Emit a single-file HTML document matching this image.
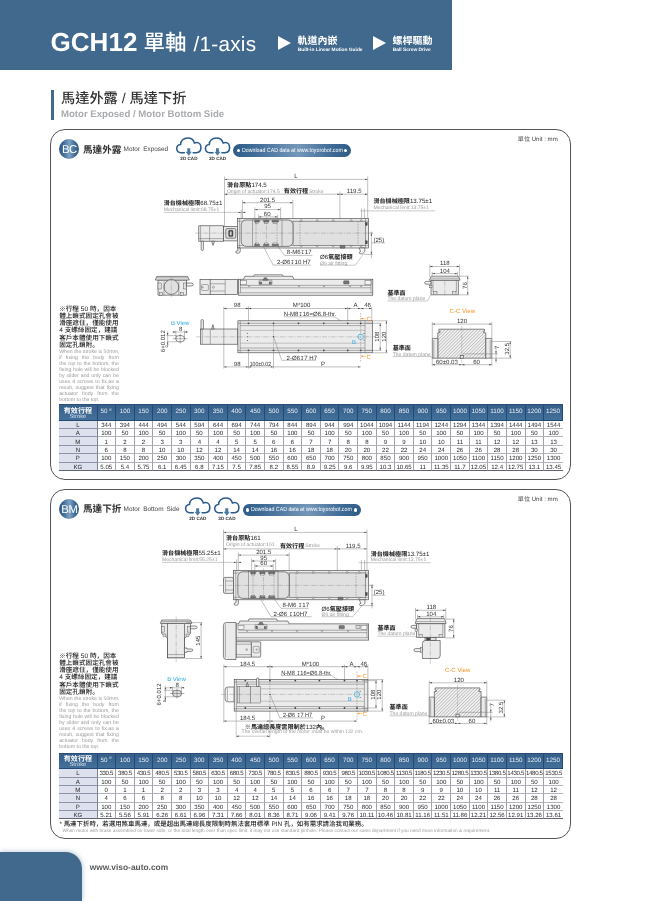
<!DOCTYPE html>
<html lang="zh-Hant">
<head>
<meta charset="utf-8">
<title>GCH12 單軸 / 1-axis</title>
<style>
html,body{margin:0;padding:0;}
body{width:650px;height:901px;position:relative;overflow:hidden;background:#fff;
 font-family:"Liberation Sans","Noto Sans CJK TC",sans-serif;color:#333;text-rendering:geometricPrecision;will-change:transform;-webkit-font-smoothing:antialiased;}
.abs{position:absolute;white-space:nowrap;line-height:1;}
#hdr{position:absolute;left:0;top:0;width:452px;height:70px;background:#41698d;}
#hdr .t{color:#fff;}
.tri{position:absolute;width:0;height:0;border-style:solid;border-color:transparent transparent transparent #fff;border-width:7.4px 0 7.4px 13px;}
.vbar{position:absolute;left:51px;top:90px;width:3px;height:30px;background:#3f6a92;}
.box{position:absolute;left:50.3px;width:519.2px;border:1px solid #555;border-radius:15px;box-sizing:content-box;}
.badge{position:absolute;width:20.2px;height:20.2px;border-radius:50%;
 background:linear-gradient(90deg,#2b5885 0%,#3f6c97 22%,#7da1c1 52%,#3f6c97 80%,#2b5885 100%);color:#fff;
 font-size:11.4px;line-height:22.4px;text-align:center;letter-spacing:-0.5px;}
.pill{position:absolute;height:12.8px;width:118px;border-radius:7px;
 background:linear-gradient(90deg,#2f5b88 0%,#3d6995 15%,#7497b8 55%,#3d6995 85%,#2f5b88 100%);}
.pill i{position:absolute;top:4.7px;width:3.4px;height:3.4px;border-radius:50%;background:#fff;}
.pill span{position:absolute;left:8.7px;top:3.9px;font-size:6px;transform:scaleX(.876);transform-origin:0 50%;line-height:1;color:#fff;white-space:nowrap;}
table.d{position:absolute;border-collapse:separate;border-spacing:0;table-layout:fixed;font-size:6.1px;color:#2a2a2a;border-top:1px solid #2a4e78;}
table.d td{padding:3.1px 0 0 0;text-align:center;vertical-align:top;line-height:4px;border-right:1px solid #a3a3a6;border-bottom:1px solid #b3b5bd;white-space:nowrap;box-sizing:border-box;}
table.d td:last-child{border-right:0;}
table.d tr.h td{padding-top:0;vertical-align:middle;line-height:1;background:linear-gradient(180deg,#365f8a 0%,#43709a 100%);color:#e6edf5;border-right:1px solid #234a74;border-bottom:1px solid #234a74;font-size:6.3px;}
table.d tr.tight td{letter-spacing:-0.32px;}
table.d td.k{background:#dde1ee;border-bottom-color:#8d94a9;border-right-color:#7c8294;}
table.d tr:last-child td{border-bottom-color:#60656f;}
.hs{display:block;line-height:1;padding-top:1.2px;}
.hs b{display:block;font-size:7.1px;font-weight:bold;line-height:8px;color:#fff;}
.hs span{display:block;font-size:5.9px;line-height:5px;color:#d5e0ec;}
table.d sup{font-size:3.5px;vertical-align:top;position:relative;top:-0.5px;margin-left:1px;}
#ftab{position:absolute;left:0;top:852.4px;width:82px;height:49px;background:#41698d;border-top-right-radius:16.5px;box-shadow:1px -1px 4px rgba(65,105,141,.3);}
svg{position:absolute;overflow:visible;}
svg text{font-family:"Liberation Sans","Noto Sans CJK TC",sans-serif;}
.ln{stroke:#6a6a6a;stroke-width:.42;fill:none;}
.lg{stroke:#888;stroke-width:.45;fill:none;}
.ol{stroke:#3a3a3a;stroke-width:.6;}
.ot{stroke:#444;stroke-width:.4;}
.f0{fill:none;}
.f1{fill:#ebebeb;}
.f2{fill:#e0e0e0;}
.f3{fill:#f4f4f4;}
.fk{fill:#444;}
.fm{fill:#777;}
.cl{stroke:#777;stroke-width:.35;fill:none;stroke-dasharray:5 1.2 1 1.2;}
.ds{stroke:#666;stroke-width:.4;fill:none;stroke-dasharray:1.6 1;}
.ar{fill:#444;stroke:none;}
text.d{font-size:6.05px;fill:#333;}
text.b{font-size:6.1px;font-weight:bold;fill:#222;}
text.g{font-size:5.05px;fill:#9a9a9a;}
text.cad{font-size:4.6px;font-weight:bold;fill:#333;}
text.d2{font-size:4px;fill:#333;}
tspan.n{font-weight:normal;font-size:6.15px;}
tspan.dp{font-family:"DejaVu Sans",sans-serif;font-size:5px;}
text.cy{font-size:6px;fill:#29abe2;}
text.or{font-size:6.1px;fill:#f7931e;}
.cyl{stroke:#29abe2;stroke-width:.7;fill:none;}
.orl{stroke:#f7931e;stroke-width:.5;fill:none;}
.oa{fill:#f7931e;}
.note{position:absolute;left:59.2px;width:59.6px;}
.note p{margin:0;}
.note .c{font-family:"Liberation Sans","Noto Sans CJK SC",sans-serif;font-size:6.6px;line-height:7.15px;font-weight:500;color:#1a1a1a;}
.note .e{font-size:5.2px;line-height:6.02px;color:#9a9a9a;text-align:justify;text-align-last:justify;white-space:nowrap;}
</style>
</head>
<body>
<div id="hdr">
 <div class="abs t" style="left:50.4px;top:28.6px;font-size:26px;font-weight:bold;letter-spacing:0.1px;">GCH12</div>
 <div class="abs t" style="left:143.5px;top:33.2px;font-size:21.5px;font-weight:500;">單軸</div>
 <div class="abs t" style="left:193.6px;top:35px;font-size:20.7px;letter-spacing:0.25px;">/1-axis</div>
 <div class="tri" style="left:278.3px;top:36.4px;"></div>
 <div class="abs t" style="left:297.4px;top:37px;font-size:10px;font-weight:bold;">軌道內嵌</div>
 <div class="abs t" style="left:297.7px;top:48.6px;font-size:4.85px;font-weight:bold;">Built-in Linear Motion Guide</div>
 <div class="tri" style="left:373.3px;top:36.4px;"></div>
 <div class="abs t" style="left:392.4px;top:37px;font-size:10px;font-weight:bold;">螺桿驅動</div>
 <div class="abs t" style="left:392.7px;top:48.6px;font-size:4.85px;font-weight:bold;">Ball Screw Drive</div>
</div>
<div class="vbar"></div>
<div class="abs" style="left:61px;top:91.6px;font-size:14.2px;font-weight:500;color:#333;">馬達外露 / 馬達下折</div>
<div class="abs" style="left:61px;top:109.8px;font-size:9.6px;font-weight:bold;color:#a9abae;">Motor Exposed / Motor Bottom Side</div>
<div class="box" style="top:129px;height:349px;"></div>
<div class="badge" style="left:59.3px;top:139.3px;">BC</div>
<div class="abs" style="left:83px;top:145.5px;font-size:9.6px;font-weight:bold;color:#333;">馬達外露</div>
<div class="abs" style="left:123.6px;top:146.6px;font-size:6.45px;color:#444;word-spacing:1.3px;">Motor Exposed</div>
<div class="pill" style="left:233px;top:144px;"><i style="left:3.6px"></i><i style="right:3.6px"></i><span>Download CAD data at www.toyorobot.com</span></div>
<div class="abs" style="left:517.8px;top:137.3px;font-size:6.1px;color:#444;">單位 Unit : mm</div>
<svg width="650" height="901" viewBox="0 0 650 901" style="left:0;top:0;pointer-events:none">
<g transform="translate(176.3 138.0)">
<path d="M8 14.7 H4.6 C1.9 14.7 .4 12.8 .4 10.6 C.4 8.3 2 6.6 4.3 6.4 C4.3 2.6 7.4 0 11.4 0 C14.6 0 17.2 1.8 18.1 4.9 C18.9 4.6 19.6 4.5 20.4 4.5 C23 4.5 24.6 6.9 24.6 9.6 C24.6 12.6 22.8 14.7 20 14.7 H16.9" fill="none" stroke="#2b5c8c" stroke-width="1.55" stroke-linecap="round"/>
<path d="M11 10.3 h2.9 v3.4 h1.6 l-3.05 4 l-3.05 -4 h1.6z" fill="#4a79a5"/>
</g>
<text class="cad" x="188.9" y="160.2" text-anchor="middle">2D CAD</text>
<g transform="translate(205.0 138.0)">
<path d="M8 14.7 H4.6 C1.9 14.7 .4 12.8 .4 10.6 C.4 8.3 2 6.6 4.3 6.4 C4.3 2.6 7.4 0 11.4 0 C14.6 0 17.2 1.8 18.1 4.9 C18.9 4.6 19.6 4.5 20.4 4.5 C23 4.5 24.6 6.9 24.6 9.6 C24.6 12.6 22.8 14.7 20 14.7 H16.9" fill="none" stroke="#2b5c8c" stroke-width="1.55" stroke-linecap="round"/>
<path d="M11 10.3 h2.9 v3.4 h1.6 l-3.05 4 l-3.05 -4 h1.6z" fill="#4a79a5"/>
</g>
<text class="cad" x="217.6" y="160.2" text-anchor="middle">3D CAD</text>
<line class="ln" x1="224.5" y1="179.4" x2="367.7" y2="179.4"/>
<path class="ar" d="M224.5 179.4 l2.6 -0.7 v1.4z"/>
<path class="ar" d="M367.7 179.4 l-2.6 -0.7 v1.4z"/>
<text class="d" x="296.0" y="177.6" text-anchor="middle">L</text>
<line class="ln" x1="224.5" y1="176.5" x2="224.5" y2="226.0"/>
<line class="ln" x1="367.7" y1="176.5" x2="367.7" y2="218.5"/>
<line class="ln" x1="224.5" y1="194.2" x2="367.7" y2="194.2"/>
<path class="ar" d="M224.5 194.2 l2.6 -0.7 v1.4z"/>
<path class="ar" d="M339.9 194.2 l-2.6 -0.7 v1.4z"/>
<path class="ar" d="M339.9 194.2 l2.6 -0.7 v1.4z"/>
<path class="ar" d="M367.7 194.2 l-2.6 -0.7 v1.4z"/>
<text class="b" x="227.0" y="187.4">滑台原點<tspan class="n">174.5</tspan></text>
<text class="g" x="227.0" y="193.0">Origin of actuator:174.5</text>
<text class="b" x="283.8" y="193.0">有效行程</text>
<text class="g" x="309.0" y="193.0">Stroke</text>
<text class="d" x="354.2" y="193.2" text-anchor="middle">119.5</text>
<line class="ln" x1="339.9" y1="191.5" x2="339.9" y2="218.5"/>
<line class="ds" x1="339.9" y1="218.5" x2="339.9" y2="247.5"/>
<text class="d" x="267.6" y="201.7" text-anchor="middle">201.5</text>
<line class="ln" x1="242.5" y1="202.7" x2="292.9" y2="202.7"/>
<path class="ar" d="M242.5 202.7 l2.6 -0.7 v1.4z"/>
<path class="ar" d="M292.9 202.7 l-2.6 -0.7 v1.4z"/>
<text class="d" x="267.6" y="208.4" text-anchor="middle">95</text>
<line class="ln" x1="254.8" y1="209.6" x2="280.6" y2="209.6"/>
<path class="ar" d="M254.8 209.6 l2.6 -0.7 v1.4z"/>
<path class="ar" d="M280.6 209.6 l-2.6 -0.7 v1.4z"/>
<text class="d" x="267.2" y="215.7" text-anchor="middle">60</text>
<line class="ln" x1="258.6" y1="216.9" x2="277.6" y2="216.9"/>
<path class="ar" d="M258.6 216.9 l2.6 -0.7 v1.4z"/>
<path class="ar" d="M277.6 216.9 l-2.6 -0.7 v1.4z"/>
<line class="ln" x1="242.5" y1="200.0" x2="242.5" y2="219.0"/>
<line class="ln" x1="292.9" y1="200.0" x2="292.9" y2="219.0"/>
<line class="ln" x1="254.8" y1="207.5" x2="254.8" y2="219.0"/>
<line class="ln" x1="280.6" y1="207.5" x2="280.6" y2="219.0"/>
<line class="ln" x1="258.6" y1="214.5" x2="258.6" y2="219.0"/>
<line class="ln" x1="277.6" y1="214.5" x2="277.6" y2="219.0"/>
<text class="b" x="163.7" y="205.2">滑台機械極限<tspan class="n">68.75±1</tspan></text>
<text class="g" x="163.7" y="210.8">Mechanical limit:68.75±1</text>
<line class="lg" x1="163.7" y1="212.4" x2="245.8" y2="212.4"/>
<line class="ln" x1="241.2" y1="209.5" x2="241.2" y2="219.0"/>
<path class="ar" d="M241.2 212.4 l-2.6 -0.7 v1.4z"/>
<path class="ar" d="M242.5 212.4 l2.6 -0.7 v1.4z"/>
<text class="b" x="373.4" y="203.4">滑台機械極限<tspan class="n">13.75±1</tspan></text>
<text class="g" x="373.4" y="209.1">Mechanical limit:13.75±1</text>
<line class="lg" x1="360.3" y1="210.9" x2="435.4" y2="210.9"/>
<line class="ln" x1="364.4" y1="208.5" x2="364.4" y2="218.5"/>
<line class="ln" x1="361.6" y1="208.5" x2="361.6" y2="218.5"/>
<rect class="ol f1" x="198.8" y="225.8" width="24.7" height="15.4"/>
<line class="ot" x1="209.6" y1="225.8" x2="209.6" y2="241.2"/>
<line class="ot" x1="198.8" y1="238.6" x2="223.5" y2="238.6"/>
<line class="ot" x1="200.6" y1="225.8" x2="200.6" y2="241.2"/>
<path class="ol f3" d="M201.2 241.2 v8.3 q0 1 1.1 1 q1.1 0 1.1 -1 v-8.3z"/>
<path class="ol f2" d="M211.6 241.2 l1.4 4.2 l1.6 -4.2z"/>
<rect class="ol f1" x="223.5" y="226.3" width="13.8" height="14.6"/>
<rect class="ol f2" x="225.8" y="228.6" width="10.0" height="9.6" rx="1.2"/>
<rect class="ot fk" x="228.6" y="230.2" width="4.4" height="6.4" rx="1.0"/>
<rect class="ot f3" x="229.8" y="231.2" width="2.0" height="4.4" rx="0.8"/>
<rect class="ol f1" x="237.3" y="218.6" width="131.1" height="29.4"/>
<line class="ot" x1="239.6" y1="218.6" x2="239.6" y2="248.0"/>
<line class="ot" x1="365.6" y1="218.6" x2="365.6" y2="248.0"/>
<line class="ot" x1="237.3" y1="221.2" x2="368.4" y2="221.2"/>
<line class="ot" x1="237.3" y1="245.4" x2="368.4" y2="245.4"/>
<rect class="ot f2" x="293.0" y="221.2" width="72.6" height="24.2"/>
<rect class="ol f2" x="241.2" y="220.0" width="51.8" height="26.4" rx="5.0"/>
<rect class="ot f2" x="252.2" y="220.0" width="29.8" height="26.4"/>
<line class="cl" x1="266.5" y1="217.0" x2="266.5" y2="250.0"/>
<rect class="ot fm" x="254.4" y="220.3" width="5.2" height="1.6" rx="0.4"/>
<rect class="ot f3" x="255.4" y="222.1" width="3.2" height="1.2"/>
<rect class="ot fm" x="263.4" y="220.3" width="5.6" height="1.6" rx="0.4"/>
<rect class="ot f3" x="264.4" y="222.1" width="3.6" height="1.2"/>
<rect class="ot fm" x="272.0" y="220.3" width="6.6" height="1.6" rx="0.4"/>
<rect class="ot f3" x="273.0" y="222.1" width="4.6" height="1.2"/>
<rect class="ot fm" x="254.4" y="244.2" width="5.2" height="1.6" rx="0.4"/>
<rect class="ot f3" x="255.4" y="243.0" width="3.2" height="1.2"/>
<rect class="ot fm" x="263.4" y="244.2" width="5.6" height="1.6" rx="0.4"/>
<rect class="ot f3" x="264.4" y="243.0" width="3.6" height="1.2"/>
<rect class="ot fm" x="272.0" y="244.2" width="6.6" height="1.6" rx="0.4"/>
<rect class="ot f3" x="273.0" y="243.0" width="4.6" height="1.2"/>
<path class="ot f3" d="M300.0 221.2 l1.2 -1.8 l1.2 1.8z"/>
<path class="ot f3" d="M300.0 245.4 l1.2 1.8 l1.2 -1.8z"/>
<path class="ot f3" d="M316.0 221.2 l1.2 -1.8 l1.2 1.8z"/>
<path class="ot f3" d="M316.0 245.4 l1.2 1.8 l1.2 -1.8z"/>
<path class="ot f3" d="M332.0 221.2 l1.2 -1.8 l1.2 1.8z"/>
<path class="ot f3" d="M332.0 245.4 l1.2 1.8 l1.2 -1.8z"/>
<path class="ot f3" d="M350.0 221.2 l1.2 -1.8 l1.2 1.8z"/>
<path class="ot f3" d="M350.0 245.4 l1.2 1.8 l1.2 -1.8z"/>
<path class="ot f3" d="M360.0 221.2 l1.2 -1.8 l1.2 1.8z"/>
<path class="ot f3" d="M360.0 245.4 l1.2 1.8 l1.2 -1.8z"/>
<line class="cl" x1="195.0" y1="233.1" x2="373.0" y2="233.1"/>
<line class="ds" x1="256.0" y1="221.5" x2="256.0" y2="245.0"/>
<line class="ds" x1="277.0" y1="221.5" x2="277.0" y2="245.0"/>
<line class="ds" x1="300.0" y1="221.5" x2="300.0" y2="245.0"/>
<line class="ds" x1="358.0" y1="221.5" x2="358.0" y2="245.0"/>
<path class="ol f3" d="M240.2 248 v3.2 q0 2 -2 2 h-1.2 q-1.2 0 -1.2 -1.2 q0 -1.2 1.2 -1.2 h.8 v-2.8z"/>
<rect class="ot fm" x="340.0" y="245.4" width="5.0" height="2.8" rx="0.5"/>
<path class="ol f3" d="M359.2 248 h5.6 v3.6 l-2.4 2.2 h-2 q-1 0 -1 -1.1 q0 -1.1 1.2 -1.1z"/>
<rect class="ot fk" x="365.6" y="222.5" width="1.6" height="3.0"/>
<rect class="ot fk" x="365.6" y="240.8" width="1.6" height="3.0"/>
<text class="d" x="373.4" y="241.5">(25)</text>
<line class="ln" x1="371.4" y1="242.8" x2="385.0" y2="242.8"/>
<line class="ln" x1="371.4" y1="231.5" x2="371.4" y2="258.5"/>
<line class="ln" x1="368.4" y1="233.1" x2="373.0" y2="233.1"/>
<line class="ln" x1="364.0" y1="254.4" x2="373.0" y2="254.4"/>
<path class="ar" d="M371.4 233.1 l-0.7 2.6 h1.4z"/>
<path class="ar" d="M371.4 254.4 l-0.7 -2.6 h1.4z"/>
<line class="ln" x1="263.4" y1="246.5" x2="273.2" y2="265.1"/>
<line class="ln" x1="273.2" y1="265.1" x2="311.0" y2="265.1"/>
<line class="ln" x1="278.0" y1="246.5" x2="284.6" y2="255.4"/>
<line class="ln" x1="284.6" y1="255.4" x2="312.4" y2="255.4"/>
<text class="d" x="286.8" y="254.4">8-M6<tspan class="dp">↧</tspan>17</text>
<text class="d" x="276.9" y="264.0">2-Ø6<tspan class="dp">↧</tspan>10 H7</text>
<text class="b" x="320.0" y="259.0"><tspan class="n">Ø6</tspan>氣壓接頭</text>
<text class="g" x="320.0" y="264.5">Ø6 air fitting</text>
<line class="lg" x1="320.0" y1="265.2" x2="355.2" y2="265.2"/>
<line class="lg" x1="355.2" y1="265.2" x2="364.0" y2="253.4"/>
<path class="ol f1" d="M158 280 h28.5 v15.2 h-28.5z"/>
<path class="ol f1" d="M155.2 280 l1.6 -3.6 h30.8 l1.7 3.6z"/>
<line class="ot" x1="156.5" y1="277.8" x2="188.0" y2="277.8"/>
<circle class="ol f2" cx="171.4" cy="287.0" r="7.4"/>
<line class="cl" x1="171.4" y1="277.0" x2="171.4" y2="297.0"/>
<rect class="ot f2" x="158.0" y="283.0" width="3.2" height="6.0"/>
<rect class="ot f2" x="183.3" y="283.0" width="3.2" height="6.0"/>
<rect class="ot f2" x="159.2" y="292.4" width="3.2" height="2.8"/>
<rect class="ot f2" x="180.4" y="292.4" width="3.2" height="2.8"/>
<path class="ol f3" d="M186.5 283 h4.6 q2.2 0 2.2 1.5 q0 1.5 -2.2 1.5 h-4.6z"/>
<line class="ot" x1="164.0" y1="281.5" x2="164.0" y2="295.2"/>
<line class="ot" x1="178.8" y1="281.5" x2="178.8" y2="295.2"/>
<rect class="ol f1" x="200.0" y="279.4" width="37.4" height="15.2"/>
<line class="ol" x1="210.2" y1="279.4" x2="210.2" y2="294.6"/>
<line class="ot" x1="225.2" y1="279.4" x2="225.2" y2="294.6"/>
<rect class="ot f1" x="201.4" y="284.5" width="7.0" height="6.0" rx="1.0"/>
<circle class="ot f0" cx="202.6" cy="287.3" r="0.7"/>
<circle class="ot f0" cx="213.4" cy="287.3" r="1.0"/>
<line class="ot" x1="210.2" y1="283.8" x2="225.2" y2="283.8"/>
<line class="ot" x1="210.2" y1="291.0" x2="225.2" y2="291.0"/>
<rect class="ol f1" x="238.6" y="279.2" width="134.2" height="16.0"/>
<path class="ol f1" d="M243.5 279.2 l1.4 -2.9 h47.6 l1.5 2.9"/>
<path class="ol f1" d="M253.5 276.3 l.8 -1.5 h28 l.8 1.5"/>
<line class="ot" x1="240.5" y1="285.4" x2="371.0" y2="285.4"/>
<line class="ot" x1="240.5" y1="287.8" x2="371.0" y2="287.8"/>
<line class="ot" x1="238.6" y1="292.8" x2="372.8" y2="292.8"/>
<line class="ot" x1="240.5" y1="279.2" x2="240.5" y2="292.8"/>
<line class="ot" x1="371.0" y1="279.2" x2="371.0" y2="292.8"/>
<rect class="ot f3" x="240.5" y="280.6" width="6.0" height="4.2"/>
<rect class="ot f3" x="365.0" y="280.6" width="6.0" height="4.2"/>
<rect class="ot f2" x="259.0" y="280.2" width="13.0" height="4.4" rx="0.6"/>
<rect class="ot fm" x="259.8" y="282.0" width="2.0" height="2.0"/>
<rect class="ot fm" x="269.2" y="282.0" width="2.0" height="2.0"/>
<path class="ot fm" d="M262.8 280.2 l1.4 -2.4 h2.4 l1.4 2.4z"/>
<rect class="ot fm" x="343.6" y="280.8" width="5.4" height="3.2" rx="0.6"/>
<path class="ot f0" d="M248.0 285.4 l1 1.6 l1 -1.6"/>
<path class="ot f0" d="M298.0 285.4 l1 1.6 l1 -1.6"/>
<path class="ot f0" d="M323.0 285.4 l1 1.6 l1 -1.6"/>
<path class="ot f0" d="M349.0 285.4 l1 1.6 l1 -1.6"/>
<path class="ot f0" d="M360.0 285.4 l1 1.6 l1 -1.6"/>
<text class="d" x="444.9" y="265.3" text-anchor="middle">118</text>
<line class="ln" x1="429.8" y1="266.5" x2="459.4" y2="266.5"/>
<path class="ar" d="M429.8 266.5 l2.6 -0.7 v1.4z"/>
<path class="ar" d="M459.4 266.5 l-2.6 -0.7 v1.4z"/>
<text class="d" x="444.9" y="272.6" text-anchor="middle">104</text>
<line class="ln" x1="432.2" y1="273.6" x2="457.5" y2="273.6"/>
<path class="ar" d="M432.2 273.6 l2.6 -0.7 v1.4z"/>
<path class="ar" d="M457.5 273.6 l-2.6 -0.7 v1.4z"/>
<line class="ln" x1="429.8" y1="264.5" x2="429.8" y2="277.0"/>
<line class="ln" x1="459.4" y1="264.5" x2="459.4" y2="277.0"/>
<line class="ln" x1="432.2" y1="271.8" x2="432.2" y2="276.0"/>
<line class="ln" x1="457.5" y1="271.8" x2="457.5" y2="276.0"/>
<path class="ol f1" d="M431 280.2 h27.4 v14.6 h-27.4z"/>
<path class="ol f1" d="M429.6 280.2 l.6 -2.2 l1.2 -1.8 h26.8 l1.2 1.8 l.6 2.2z"/>
<line class="ot" x1="430.2" y1="278.2" x2="459.2" y2="278.2"/>
<line class="cl" x1="444.8" y1="281.0" x2="444.8" y2="296.0"/>
<path class="ol f3" d="M431 281.4 h-4.4 q-2 0 -2 1.4 q0 1.4 2 1.4 h4.4z"/>
<rect class="ot f2" x="429.4" y="285.2" width="2.6" height="2.6"/>
<rect class="ot f2" x="433.6" y="291.8" width="3.4" height="3.0"/>
<rect class="ot f2" x="452.6" y="291.8" width="3.4" height="3.0"/>
<line class="ot" x1="433.0" y1="280.2" x2="433.0" y2="291.8"/>
<line class="ot" x1="456.4" y1="280.2" x2="456.4" y2="291.8"/>
<line class="ln" x1="459.4" y1="276.2" x2="469.0" y2="276.2"/>
<line class="ln" x1="458.4" y1="294.8" x2="469.0" y2="294.8"/>
<line class="ln" x1="467.7" y1="276.2" x2="467.7" y2="294.8"/>
<path class="ar" d="M467.7 276.2 l-0.7 2.6 h1.4z"/>
<path class="ar" d="M467.7 294.8 l-0.7 -2.6 h1.4z"/>
<text class="d" transform="translate(466.6 285.6) rotate(-90)" text-anchor="middle">76</text>
<text class="b" x="387.4" y="294.8">基準面</text>
<text class="g" x="387.4" y="300.1">The datum plane</text>
<line class="lg" x1="387.4" y1="301.0" x2="427.4" y2="301.0"/>
<line class="lg" x1="427.4" y1="301.0" x2="430.6" y2="295.0"/>
<text class="d" x="237.2" y="307.4" text-anchor="middle">98</text>
<text class="d" x="301.6" y="307.4" text-anchor="middle">M*100</text>
<text class="d" x="355.4" y="307.4" text-anchor="middle">A</text>
<text class="d" x="367.6" y="307.4" text-anchor="middle">46</text>
<line class="ln" x1="223.8" y1="308.5" x2="371.8" y2="308.5"/>
<line class="ln" x1="223.8" y1="306.5" x2="223.8" y2="368.6"/>
<line class="ln" x1="248.5" y1="306.5" x2="248.5" y2="368.6"/>
<line class="ln" x1="347.7" y1="306.5" x2="347.7" y2="323.0"/>
<line class="ln" x1="371.8" y1="306.5" x2="371.8" y2="320.8"/>
<path class="ar" d="M223.8 308.5 l2.6 -0.7 v1.4z"/>
<path class="ar" d="M248.5 308.5 l-2.6 -0.7 v1.4z"/>
<path class="ar" d="M248.5 308.5 l2.6 -0.7 v1.4z"/>
<path class="ar" d="M347.7 308.5 l-2.6 -0.7 v1.4z"/>
<path class="ar" d="M347.7 308.5 l2.6 -0.7 v1.4z"/>
<path class="ar" d="M360.7 308.5 l-2.6 -0.7 v1.4z"/>
<path class="ar" d="M360.7 308.5 l2.6 -0.7 v1.4z"/>
<path class="ar" d="M371.8 308.5 l-2.6 -0.7 v1.4z"/>
<text class="d" x="283.7" y="315.9">N-M8<tspan class="dp">↧</tspan>16=Ø6.8-thr.</text>
<line class="ln" x1="283.7" y1="316.8" x2="334.6" y2="316.8"/>
<line class="ln" x1="334.6" y1="316.8" x2="351.0" y2="327.6"/>
<rect class="ol f1" x="200.5" y="329.0" width="37.4" height="15.2"/>
<line class="ot" x1="210.3" y1="329.0" x2="210.3" y2="344.2"/>
<line class="ot" x1="202.2" y1="329.0" x2="202.2" y2="344.2"/>
<line class="ot" x1="223.8" y1="329.0" x2="223.8" y2="344.2"/>
<path class="ol f3" d="M201 329 v-8.4 q0 -1 1.2 -1 q1.2 0 1.2 1 v8.4z"/>
<path class="ol f2" d="M211.6 329 l1.3 -4.4 l1.3 4.4z"/>
<rect class="ol f1" x="237.9" y="320.8" width="134.4" height="32.0"/>
<line class="ot" x1="237.9" y1="323.3" x2="372.3" y2="323.3"/>
<line class="ot" x1="237.9" y1="350.4" x2="372.3" y2="350.4"/>
<line class="ot" x1="240.2" y1="325.6" x2="365.0" y2="325.6"/>
<line class="ot" x1="240.2" y1="348.0" x2="365.0" y2="348.0"/>
<line class="ot" x1="240.2" y1="320.8" x2="240.2" y2="352.8"/>
<line class="ot" x1="365.0" y1="320.8" x2="365.0" y2="352.8"/>
<line class="lg" x1="240.2" y1="330.4" x2="365.0" y2="330.4"/>
<line class="lg" x1="240.2" y1="343.2" x2="365.0" y2="343.2"/>
<line class="cl" x1="196.0" y1="336.8" x2="376.0" y2="336.8"/>
<circle class="fk" cx="248.5" cy="323.3" r="0.9"/>
<circle class="fk" cx="248.5" cy="350.4" r="0.9"/>
<circle class="fk" cx="273.5" cy="323.3" r="0.9"/>
<circle class="fk" cx="273.5" cy="350.4" r="0.9"/>
<circle class="fk" cx="298.5" cy="323.3" r="0.9"/>
<circle class="fk" cx="298.5" cy="350.4" r="0.9"/>
<circle class="fk" cx="323.8" cy="323.3" r="0.9"/>
<circle class="fk" cx="323.8" cy="350.4" r="0.9"/>
<circle class="fk" cx="347.7" cy="323.3" r="0.9"/>
<circle class="fk" cx="347.7" cy="350.4" r="0.9"/>
<circle class="fk" cx="360.7" cy="323.3" r="0.9"/>
<circle class="fk" cx="360.7" cy="350.4" r="0.9"/>
<circle class="fk" cx="247.4" cy="333.2" r="0.5"/>
<circle class="fk" cx="247.4" cy="336.8" r="0.5"/>
<circle class="fk" cx="247.4" cy="340.4" r="0.5"/>
<circle class="fk" cx="273.5" cy="336.8" r="0.7"/>
<circle class="fk" cx="364.0" cy="333.6" r="0.5"/>
<circle class="fk" cx="364.0" cy="340.0" r="0.5"/>
<line class="ds" x1="273.5" y1="323.3" x2="273.5" y2="350.4"/>
<line class="ds" x1="360.7" y1="313.0" x2="360.7" y2="362.5"/>
<circle class="cyl" cx="360.7" cy="336.8" r="2.7"/>
<text class="cy" x="352.0" y="343.8">B</text>
<text class="or" x="366.4" y="320.9">C</text>
<text class="or" x="366.4" y="358.6">C</text>
<line class="orl" x1="361.0" y1="318.6" x2="365.6" y2="318.6"/>
<line class="orl" x1="361.0" y1="356.2" x2="365.6" y2="356.2"/>
<path class="oa" d="M360.9 318.6 l2.2 -.9 v1.8z M360.9 356.2 l2.2 -.9 v1.8z"/>
<line class="ln" x1="372.3" y1="320.8" x2="387.5" y2="320.8"/>
<line class="ln" x1="372.3" y1="352.8" x2="387.5" y2="352.8"/>
<line class="ln" x1="366.0" y1="323.3" x2="381.4" y2="323.3"/>
<line class="ln" x1="366.0" y1="350.4" x2="381.4" y2="350.4"/>
<line class="ln" x1="380.2" y1="323.3" x2="380.2" y2="350.4"/>
<path class="ar" d="M380.2 323.3 l-0.7 2.6 h1.4z"/>
<path class="ar" d="M380.2 350.4 l-0.7 -2.6 h1.4z"/>
<line class="ln" x1="386.4" y1="320.8" x2="386.4" y2="352.8"/>
<path class="ar" d="M386.4 320.8 l-0.7 2.6 h1.4z"/>
<path class="ar" d="M386.4 352.8 l-0.7 -2.6 h1.4z"/>
<text class="d" transform="translate(379.2 336.6) rotate(-90)" text-anchor="middle">108</text>
<text class="d" transform="translate(385.6 336.6) rotate(-90)" text-anchor="middle">120</text>
<text class="d" x="237.2" y="365.6" text-anchor="middle">98</text>
<text class="d" x="260.4" y="365.6" text-anchor="middle" textLength="21.4" lengthAdjust="spacingAndGlyphs">100±0.02</text>
<text class="d" x="323.0" y="365.6" text-anchor="middle">P</text>
<line class="ln" x1="223.8" y1="366.9" x2="360.7" y2="366.9"/>
<path class="ar" d="M223.8 366.9 l2.6 -0.7 v1.4z"/>
<path class="ar" d="M248.5 366.9 l-2.6 -0.7 v1.4z"/>
<path class="ar" d="M248.5 366.9 l2.6 -0.7 v1.4z"/>
<path class="ar" d="M273.5 366.9 l-2.6 -0.7 v1.4z"/>
<path class="ar" d="M360.7 366.9 l-2.6 -0.7 v1.4z"/>
<line class="ln" x1="273.5" y1="352.8" x2="273.5" y2="368.6"/>
<text class="d" x="286.6" y="359.5">2-Ø6<tspan class="dp">↧</tspan>7 H7</text>
<line class="ln" x1="281.7" y1="360.3" x2="316.0" y2="360.3"/>
<line class="ln" x1="281.7" y1="360.3" x2="273.8" y2="337.4"/>
<text class="b" x="392.7" y="350.4">基準面</text>
<text class="g" x="392.7" y="355.9">The datum plane</text>
<line class="lg" x1="392.7" y1="356.6" x2="431.0" y2="356.6"/>
<line class="lg" x1="431.0" y1="356.6" x2="432.3" y2="358.2"/>
<text class="cy" x="170.9" y="324.6">B View</text>
<text class="d" x="180.6" y="331.2" text-anchor="middle">8</text>
<line class="ln" x1="172.2" y1="332.0" x2="188.2" y2="332.0"/>
<path class="ar" d="M175.8 332.0 l-2.6 -0.7 v1.4z"/>
<path class="ar" d="M184.5 332.0 l2.6 -0.7 v1.4z"/>
<line class="ln" x1="175.8" y1="330.5" x2="175.8" y2="338.7"/>
<line class="ln" x1="184.5" y1="330.5" x2="184.5" y2="338.7"/>
<rect class="ol f0" x="175.8" y="335.6" width="8.7" height="6.2" rx="3.1"/>
<line class="ot" x1="173.0" y1="338.7" x2="187.5" y2="338.7"/>
<line class="ot" x1="180.2" y1="333.8" x2="180.2" y2="343.6"/>
<line class="ln" x1="166.5" y1="335.6" x2="177.0" y2="335.6"/>
<line class="ln" x1="166.5" y1="341.8" x2="177.0" y2="341.8"/>
<line class="ln" x1="167.7" y1="331.0" x2="167.7" y2="346.5"/>
<path class="ar" d="M167.7 335.6 l-0.7 -2.6 h1.4z"/>
<path class="ar" d="M167.7 341.8 l-0.7 2.6 h1.4z"/>
<text class="d" transform="translate(164.6 341.2) rotate(-90)" text-anchor="middle">6+0.012</text>
<text class="d2" transform="translate(168.2 346.4) rotate(-90)" text-anchor="middle">0</text>
<text class="or" x="462.3" y="313.0" text-anchor="middle">C-C View</text>
<text class="d" x="462.0" y="323.2" text-anchor="middle">120</text>
<line class="ln" x1="432.3" y1="324.1" x2="491.8" y2="324.1"/>
<path class="ar" d="M432.3 324.1 l2.6 -0.7 v1.4z"/>
<path class="ar" d="M491.8 324.1 l-2.6 -0.7 v1.4z"/>
<line class="ln" x1="432.3" y1="322.0" x2="432.3" y2="338.4"/>
<line class="ln" x1="491.8" y1="322.0" x2="491.8" y2="338.4"/>
<defs><pattern id="hat" width="2.3" height="2.3" patternUnits="userSpaceOnUse" patternTransform="rotate(45)"><rect width="2.3" height="2.3" fill="#f1f1f1"/><line x1="0" y1="0" x2="0" y2="2.3" stroke="#6a6a6a" stroke-width=".62"/></pattern></defs>
<path d="M438.8 329.2 h45.8 v2.2 h-1 v1.4 h2.2 v25.4 h-48 v-25.4 h2.2 v-1.4 h-1.2z" fill="url(#hat)" stroke="#3a3a3a" stroke-width=".6"/>
<path class="ol f1" d="M432.3 338.4 h5.5 v19.8 h-5.5z"/>
<path class="ol f1" d="M485.8 338.4 h6 v19.8 h-6z"/>
<line class="ot" x1="433.8" y1="340.0" x2="433.8" y2="358.2"/>
<line class="ot" x1="490.2" y1="340.0" x2="490.2" y2="358.2"/>
<rect class="ol f3" x="460.2" y="355.4" width="3.2" height="2.8"/>
<line class="cl" x1="461.8" y1="326.0" x2="461.8" y2="362.5"/>
<text class="d" x="446.9" y="364.0" text-anchor="middle">60±0.03</text>
<text class="d" x="476.6" y="364.0" text-anchor="middle">60</text>
<line class="ln" x1="432.3" y1="364.7" x2="491.8" y2="364.7"/>
<path class="ar" d="M432.3 364.7 l2.6 -0.7 v1.4z"/>
<path class="ar" d="M461.8 364.7 l-2.6 -0.7 v1.4z"/>
<path class="ar" d="M461.8 364.7 l2.6 -0.7 v1.4z"/>
<path class="ar" d="M491.8 364.7 l-2.6 -0.7 v1.4z"/>
<line class="ln" x1="432.3" y1="358.2" x2="432.3" y2="366.0"/>
<line class="ln" x1="491.8" y1="358.2" x2="491.8" y2="366.0"/>
<line class="ln" x1="491.8" y1="341.5" x2="511.4" y2="341.5"/>
<line class="ln" x1="463.4" y1="353.9" x2="498.0" y2="353.9"/>
<line class="ln" x1="491.8" y1="358.2" x2="511.4" y2="358.2"/>
<line class="ln" x1="496.0" y1="347.5" x2="496.0" y2="363.0"/>
<path class="ar" d="M496.0 353.9 l-0.7 -2.6 h1.4z"/>
<path class="ar" d="M496.0 358.2 l-0.7 2.6 h1.4z"/>
<line class="ln" x1="510.2" y1="341.5" x2="510.2" y2="358.2"/>
<path class="ar" d="M510.2 341.5 l-0.7 2.6 h1.4z"/>
<path class="ar" d="M510.2 358.2 l-0.7 -2.6 h1.4z"/>
<text class="d" transform="translate(498.6 347.4) rotate(-90)" text-anchor="middle">7</text>
<text class="d" transform="translate(508.9 348.8) rotate(-90)" text-anchor="middle">32.5</text>
</svg>
<div class="note" style="top:306px;"><p class="c" lang="zh-Hans">※行程 50 時，因本<br>體上鎖式固定孔會被<br>滑座遮住，僅能使用<br>4 支螺絲固定，建議<br>客戶本體使用下鎖式<br>固定孔鎖附。</p>
<p class="e" style="margin-top:.4px">When the stroke is 50mm,<br>if fixing the body from<br>the top to the bottom, the<br>fixing hole will be blocked<br>by slider and only can be<br>uses 4 screws to fix.as a<br>result, suggest that fixing<br>actuator body from the<br><span style="text-align-last:left;display:block">bottom to the top.</span></p></div>
<table class="d" style="left:59.3px;top:404.4px;width:503.8px;">
<colgroup><col style="width:38.20px"><col style="width:18.62px"><col style="width:18.62px"><col style="width:18.62px"><col style="width:18.62px"><col style="width:18.62px"><col style="width:18.62px"><col style="width:18.62px"><col style="width:18.62px"><col style="width:18.62px"><col style="width:18.62px"><col style="width:18.62px"><col style="width:18.62px"><col style="width:18.62px"><col style="width:18.62px"><col style="width:18.62px"><col style="width:18.62px"><col style="width:18.62px"><col style="width:18.62px"><col style="width:18.62px"><col style="width:18.62px"><col style="width:18.62px"><col style="width:18.62px"><col style="width:18.62px"><col style="width:18.62px"><col style="width:18.62px"></colgroup>
<tr class="h"><td style="height:14.8px"><div class="hs"><b>有效行程</b><span>Stroke</span></div></td><td>50<sup>※</sup></td><td>100</td><td>150</td><td>200</td><td>250</td><td>300</td><td>350</td><td>400</td><td>450</td><td>500</td><td>550</td><td>600</td><td>650</td><td>700</td><td>750</td><td>800</td><td>850</td><td>900</td><td>950</td><td>1000</td><td>1050</td><td>1100</td><td>1150</td><td>1200</td><td>1250</td></tr>
<tr><td class="k" style="height:8.45px">L</td><td>344</td><td>394</td><td>444</td><td>494</td><td>544</td><td>594</td><td>644</td><td>694</td><td>744</td><td>794</td><td>844</td><td>894</td><td>944</td><td>994</td><td>1044</td><td>1094</td><td>1144</td><td>1194</td><td>1244</td><td>1294</td><td>1344</td><td>1394</td><td>1444</td><td>1494</td><td>1544</td></tr>
<tr><td class="k" style="height:8.45px">A</td><td>100</td><td>50</td><td>100</td><td>50</td><td>100</td><td>50</td><td>100</td><td>50</td><td>100</td><td>50</td><td>100</td><td>50</td><td>100</td><td>50</td><td>100</td><td>50</td><td>100</td><td>50</td><td>100</td><td>50</td><td>100</td><td>50</td><td>100</td><td>50</td><td>100</td></tr>
<tr><td class="k" style="height:8.45px">M</td><td>1</td><td>2</td><td>2</td><td>3</td><td>3</td><td>4</td><td>4</td><td>5</td><td>5</td><td>6</td><td>6</td><td>7</td><td>7</td><td>8</td><td>8</td><td>9</td><td>9</td><td>10</td><td>10</td><td>11</td><td>11</td><td>12</td><td>12</td><td>13</td><td>13</td></tr>
<tr><td class="k" style="height:8.45px">N</td><td>6</td><td>8</td><td>8</td><td>10</td><td>10</td><td>12</td><td>12</td><td>14</td><td>14</td><td>16</td><td>16</td><td>18</td><td>18</td><td>20</td><td>20</td><td>22</td><td>22</td><td>24</td><td>24</td><td>26</td><td>26</td><td>28</td><td>28</td><td>30</td><td>30</td></tr>
<tr><td class="k" style="height:8.45px">P</td><td>100</td><td>150</td><td>200</td><td>250</td><td>300</td><td>350</td><td>400</td><td>450</td><td>500</td><td>550</td><td>600</td><td>650</td><td>700</td><td>750</td><td>800</td><td>850</td><td>900</td><td>950</td><td>1000</td><td>1050</td><td>1100</td><td>1150</td><td>1200</td><td>1250</td><td>1300</td></tr>
<tr><td class="k" style="height:8.45px">KG</td><td>5.05</td><td>5.4</td><td>5.75</td><td>6.1</td><td>6.45</td><td>6.8</td><td>7.15</td><td>7.5</td><td>7.85</td><td>8.2</td><td>8.55</td><td>8.9</td><td>9.25</td><td>9.6</td><td>9.95</td><td>10.3</td><td>10.65</td><td>11</td><td>11.35</td><td>11.7</td><td>12.05</td><td>12.4</td><td>12.75</td><td>13.1</td><td>13.45</td></tr>
</table><div class="box" style="top:488.8px;height:348.6px;"></div>
<div class="badge" style="left:59.3px;top:499.3px;">BM</div>
<div class="abs" style="left:83px;top:505.4px;font-size:9.6px;font-weight:bold;color:#333;">馬達下折</div>
<div class="abs" style="left:123.6px;top:506.5px;font-size:6.45px;color:#444;word-spacing:1.3px;">Motor Bottom Side</div>
<div class="pill" style="left:242.5px;top:503.6px;"><i style="left:3.6px"></i><i style="right:3.6px"></i><span>Download CAD data at www.toyorobot.com</span></div>
<div class="abs" style="left:517.8px;top:497.3px;font-size:6.1px;color:#444;">單位 Unit : mm</div>
<svg width="650" height="901" viewBox="0 0 650 901" style="left:0;top:0;pointer-events:none">
<g transform="translate(185.2 498.0)">
<path d="M8 14.7 H4.6 C1.9 14.7 .4 12.8 .4 10.6 C.4 8.3 2 6.6 4.3 6.4 C4.3 2.6 7.4 0 11.4 0 C14.6 0 17.2 1.8 18.1 4.9 C18.9 4.6 19.6 4.5 20.4 4.5 C23 4.5 24.6 6.9 24.6 9.6 C24.6 12.6 22.8 14.7 20 14.7 H16.9" fill="none" stroke="#2b5c8c" stroke-width="1.55" stroke-linecap="round"/>
<path d="M11 10.3 h2.9 v3.4 h1.6 l-3.05 4 l-3.05 -4 h1.6z" fill="#4a79a5"/>
</g>
<text class="cad" x="197.8" y="520.2" text-anchor="middle">2D CAD</text>
<g transform="translate(214.3 498.0)">
<path d="M8 14.7 H4.6 C1.9 14.7 .4 12.8 .4 10.6 C.4 8.3 2 6.6 4.3 6.4 C4.3 2.6 7.4 0 11.4 0 C14.6 0 17.2 1.8 18.1 4.9 C18.9 4.6 19.6 4.5 20.4 4.5 C23 4.5 24.6 6.9 24.6 9.6 C24.6 12.6 22.8 14.7 20 14.7 H16.9" fill="none" stroke="#2b5c8c" stroke-width="1.55" stroke-linecap="round"/>
<path d="M11 10.3 h2.9 v3.4 h1.6 l-3.05 4 l-3.05 -4 h1.6z" fill="#4a79a5"/>
</g>
<text class="cad" x="226.9" y="520.2" text-anchor="middle">3D CAD</text>
<line class="ln" x1="223.5" y1="532.4" x2="367.0" y2="532.4"/>
<path class="ar" d="M223.5 532.4 l2.6 -0.7 v1.4z"/>
<path class="ar" d="M367.0 532.4 l-2.6 -0.7 v1.4z"/>
<text class="d" x="296.0" y="530.8" text-anchor="middle">L</text>
<line class="ln" x1="223.5" y1="529.5" x2="223.5" y2="583.0"/>
<line class="ln" x1="367.0" y1="529.5" x2="367.0" y2="570.5"/>
<line class="ln" x1="223.5" y1="548.9" x2="367.0" y2="548.9"/>
<path class="ar" d="M223.5 548.9 l2.6 -0.7 v1.4z"/>
<path class="ar" d="M337.3 548.9 l-2.6 -0.7 v1.4z"/>
<path class="ar" d="M337.3 548.9 l2.6 -0.7 v1.4z"/>
<path class="ar" d="M367.0 548.9 l-2.6 -0.7 v1.4z"/>
<text class="b" x="226.0" y="539.8">滑台原點<tspan class="n">161</tspan></text>
<text class="g" x="226.0" y="545.9">Origin of actuator:161</text>
<text class="b" x="279.9" y="547.6">有效行程</text>
<text class="g" x="305.3" y="547.4">Stroke</text>
<text class="d" x="353.2" y="547.7" text-anchor="middle">119.5</text>
<line class="ln" x1="337.3" y1="546.0" x2="337.3" y2="570.5"/>
<line class="ds" x1="337.3" y1="570.5" x2="337.3" y2="599.5"/>
<text class="d" x="263.7" y="554.4" text-anchor="middle">201.5</text>
<line class="ln" x1="238.3" y1="555.1" x2="289.2" y2="555.1"/>
<path class="ar" d="M238.3 555.1 l2.6 -0.7 v1.4z"/>
<path class="ar" d="M289.2 555.1 l-2.6 -0.7 v1.4z"/>
<text class="d" x="263.7" y="560.3" text-anchor="middle">95</text>
<line class="ln" x1="251.6" y1="561.0" x2="275.7" y2="561.0"/>
<path class="ar" d="M251.6 561.0 l2.6 -0.7 v1.4z"/>
<path class="ar" d="M275.7 561.0 l-2.6 -0.7 v1.4z"/>
<text class="d" x="263.7" y="565.3" text-anchor="middle">60</text>
<line class="ln" x1="254.8" y1="566.0" x2="273.2" y2="566.0"/>
<path class="ar" d="M254.8 566.0 l2.6 -0.7 v1.4z"/>
<path class="ar" d="M273.2 566.0 l-2.6 -0.7 v1.4z"/>
<line class="ln" x1="238.3" y1="552.5" x2="238.3" y2="571.0"/>
<line class="ln" x1="289.2" y1="552.5" x2="289.2" y2="571.0"/>
<line class="ln" x1="251.6" y1="558.6" x2="251.6" y2="571.0"/>
<line class="ln" x1="275.7" y1="558.6" x2="275.7" y2="571.0"/>
<line class="ln" x1="254.8" y1="563.8" x2="254.8" y2="571.0"/>
<line class="ln" x1="273.2" y1="563.8" x2="273.2" y2="571.0"/>
<text class="b" x="162.0" y="555.0">滑台機械極限<tspan class="n">55.25±1</tspan></text>
<text class="g" x="162.0" y="560.8">Mechanical limit:55.25±1</text>
<line class="lg" x1="162.0" y1="562.4" x2="241.4" y2="562.4"/>
<line class="ln" x1="236.6" y1="559.5" x2="236.6" y2="571.0"/>
<path class="ar" d="M236.6 562.4 l-2.6 -0.7 v1.4z"/>
<path class="ar" d="M238.3 562.4 l2.6 -0.7 v1.4z"/>
<text class="b" x="370.7" y="556.3">滑台機械極限<tspan class="n">13.75±1</tspan></text>
<text class="g" x="370.7" y="561.3">Mechanical limit:13.75±1</text>
<line class="lg" x1="358.4" y1="562.7" x2="430.8" y2="562.7"/>
<line class="ln" x1="361.4" y1="560.0" x2="361.4" y2="570.5"/>
<line class="ln" x1="364.6" y1="560.0" x2="364.6" y2="570.5"/>
<rect class="ol f1" x="223.5" y="577.4" width="10.0" height="16.0" rx="1.6"/>
<line class="ot" x1="225.6" y1="578.5" x2="225.6" y2="592.4"/>
<line class="ot" x1="225.6" y1="581.0" x2="233.5" y2="581.0"/>
<line class="ot" x1="225.6" y1="590.0" x2="233.5" y2="590.0"/>
<rect class="ol f1" x="233.5" y="570.5" width="134.8" height="29.3"/>
<line class="ot" x1="235.8" y1="570.5" x2="235.8" y2="599.8"/>
<line class="ot" x1="365.6" y1="570.5" x2="365.6" y2="599.8"/>
<line class="ot" x1="233.5" y1="573.0" x2="368.3" y2="573.0"/>
<line class="ot" x1="233.5" y1="597.3" x2="368.3" y2="597.3"/>
<rect class="ot f2" x="289.2" y="573.0" width="76.4" height="24.3"/>
<rect class="ol f2" x="237.8" y="571.8" width="51.4" height="26.6" rx="5.0"/>
<rect class="ot f2" x="248.5" y="571.8" width="29.5" height="26.6"/>
<line class="cl" x1="263.5" y1="568.5" x2="263.5" y2="602.0"/>
<rect class="ot fm" x="250.6" y="572.0" width="5.2" height="1.6" rx="0.4"/>
<rect class="ot f3" x="251.6" y="573.8" width="3.2" height="1.2"/>
<rect class="ot fm" x="259.6" y="572.0" width="5.6" height="1.6" rx="0.4"/>
<rect class="ot f3" x="260.6" y="573.8" width="3.6" height="1.2"/>
<rect class="ot fm" x="268.4" y="572.0" width="6.6" height="1.6" rx="0.4"/>
<rect class="ot f3" x="269.4" y="573.8" width="4.6" height="1.2"/>
<rect class="ot fm" x="250.6" y="596.4" width="5.2" height="1.6" rx="0.4"/>
<rect class="ot f3" x="251.6" y="595.2" width="3.2" height="1.2"/>
<rect class="ot fm" x="259.6" y="596.4" width="5.6" height="1.6" rx="0.4"/>
<rect class="ot f3" x="260.6" y="595.2" width="3.6" height="1.2"/>
<rect class="ot fm" x="268.4" y="596.4" width="6.6" height="1.6" rx="0.4"/>
<rect class="ot f3" x="269.4" y="595.2" width="4.6" height="1.2"/>
<path class="ot f3" d="M296.0 573 l1.2 -1.8 l1.2 1.8z"/>
<path class="ot f3" d="M296.0 597.3 l1.2 1.8 l1.2 -1.8z"/>
<path class="ot f3" d="M312.0 573 l1.2 -1.8 l1.2 1.8z"/>
<path class="ot f3" d="M312.0 597.3 l1.2 1.8 l1.2 -1.8z"/>
<path class="ot f3" d="M328.0 573 l1.2 -1.8 l1.2 1.8z"/>
<path class="ot f3" d="M328.0 597.3 l1.2 1.8 l1.2 -1.8z"/>
<path class="ot f3" d="M346.0 573 l1.2 -1.8 l1.2 1.8z"/>
<path class="ot f3" d="M346.0 597.3 l1.2 1.8 l1.2 -1.8z"/>
<path class="ot f3" d="M358.0 573 l1.2 -1.8 l1.2 1.8z"/>
<path class="ot f3" d="M358.0 597.3 l1.2 1.8 l1.2 -1.8z"/>
<line class="cl" x1="219.0" y1="585.4" x2="373.0" y2="585.4"/>
<line class="ds" x1="253.0" y1="573.3" x2="253.0" y2="597.0"/>
<line class="ds" x1="274.0" y1="573.3" x2="274.0" y2="597.0"/>
<line class="ds" x1="296.0" y1="573.3" x2="296.0" y2="597.0"/>
<line class="ds" x1="356.0" y1="573.3" x2="356.0" y2="597.0"/>
<path class="ol f3" d="M238.4 599.8 v3.4 q0 2 -2 2 h-1 q-1.2 0 -1.2 -1.2 q0 -1.2 1.2 -1.2 h.6 v-3z"/>
<rect class="ot fm" x="338.0" y="597.2" width="5.0" height="2.8" rx="0.5"/>
<path class="ol f3" d="M359.4 599.8 h5.6 v3.6 l-2.4 2.2 h-2 q-1 0 -1 -1.1 q0 -1.1 1.2 -1.1z"/>
<rect class="ot fk" x="365.6" y="574.5" width="1.6" height="3.0"/>
<rect class="ot fk" x="365.6" y="592.6" width="1.6" height="3.0"/>
<text class="d" x="373.7" y="593.9">(25)</text>
<line class="ln" x1="372.0" y1="595.2" x2="385.4" y2="595.2"/>
<line class="ln" x1="372.0" y1="584.0" x2="372.0" y2="608.5"/>
<line class="ln" x1="368.3" y1="585.4" x2="373.5" y2="585.4"/>
<line class="ln" x1="364.0" y1="605.6" x2="373.5" y2="605.6"/>
<path class="ar" d="M372.0 585.4 l-0.7 2.6 h1.4z"/>
<path class="ar" d="M372.0 605.6 l-0.7 -2.6 h1.4z"/>
<line class="ln" x1="260.4" y1="598.8" x2="271.0" y2="616.7"/>
<line class="ln" x1="271.0" y1="616.7" x2="311.6" y2="616.7"/>
<line class="ln" x1="274.0" y1="598.8" x2="281.0" y2="608.3"/>
<line class="ln" x1="281.0" y1="608.3" x2="308.6" y2="608.3"/>
<text class="d" x="282.6" y="607.2">8-M6 <tspan class="dp">↧</tspan>17</text>
<text class="d" x="273.6" y="615.5">2-Ø6 <tspan class="dp">↧</tspan>10H7</text>
<text class="b" x="321.5" y="611.2"><tspan class="n">Ø6</tspan>氣壓接頭</text>
<text class="g" x="321.5" y="616.0">Ø6 air fitting</text>
<line class="lg" x1="321.5" y1="616.7" x2="352.8" y2="616.7"/>
<line class="lg" x1="352.8" y1="616.7" x2="362.4" y2="605.2"/>
<path class="ol f1" d="M167.6 623.4 h16.8 v34.4 h-16.8z"/>
<path class="ol f1" d="M161.7 623.4 h28.8 v10 l-6 4.8 h-16.8 l-6 -4.8z"/>
<rect class="ol f1" x="167.6" y="623.4" width="16.8" height="34.4"/>
<path class="ol f1" d="M160.3 623.4 l1.5 -3.4 h28.6 l1.5 3.4z"/>
<line class="ot" x1="161.4" y1="621.6" x2="190.8" y2="621.6"/>
<line class="cl" x1="176.2" y1="616.5" x2="176.2" y2="662.0"/>
<rect class="ot f2" x="161.7" y="626.5" width="3.0" height="5.6"/>
<rect class="ot f2" x="187.5" y="626.5" width="3.0" height="5.6"/>
<rect class="ot f2" x="163.0" y="634.0" width="3.0" height="2.6"/>
<rect class="ot f2" x="186.0" y="634.0" width="3.0" height="2.6"/>
<path class="ol f3" d="M190.5 626 h4.4 q2.2 0 2.2 1.4 q0 1.4 -2.2 1.4 h-4.4z"/>
<path class="ol f3" d="M184.4 648 h2.4 v1 h4.4 q1.6 0 1.6 1.2 q0 1.2 -1.6 1.2 h-4.4 v1 h-2.4z"/>
<line class="ot" x1="167.6" y1="654.6" x2="184.4" y2="654.6"/>
<line class="ln" x1="186.0" y1="622.6" x2="202.4" y2="622.6"/>
<line class="ln" x1="185.0" y1="658.5" x2="202.4" y2="658.5"/>
<line class="ln" x1="201.1" y1="622.6" x2="201.1" y2="658.5"/>
<path class="ar" d="M201.1 622.6 l-0.7 2.6 h1.4z"/>
<path class="ar" d="M201.1 658.5 l-0.7 -2.6 h1.4z"/>
<text class="d" transform="translate(199.6 640.6) rotate(-90)" text-anchor="middle">145</text>
<rect class="ol f1" x="236.0" y="623.9" width="132.7" height="16.2"/>
<path class="ol f1" d="M238.5 623.9 l1.4 -2.9 h47.8 l1.5 2.9"/>
<path class="ol f1" d="M248.2 621 l.8 -2.1 h27.6 l.8 2.1"/>
<line class="ot" x1="238.0" y1="630.2" x2="367.0" y2="630.2"/>
<line class="ot" x1="238.0" y1="632.6" x2="367.0" y2="632.6"/>
<line class="ot" x1="236.0" y1="637.7" x2="368.7" y2="637.7"/>
<line class="ot" x1="367.0" y1="623.9" x2="367.0" y2="637.7"/>
<rect class="ot f3" x="238.0" y="625.3" width="6.0" height="4.2"/>
<rect class="ot f3" x="361.0" y="625.3" width="6.0" height="4.2"/>
<rect class="ot f2" x="255.0" y="624.6" width="12.0" height="4.6" rx="0.6"/>
<path class="ot fm" d="M258.4 624.6 l1.4 -2.4 h2.4 l1.4 2.4z"/>
<rect class="ot fm" x="255.8" y="626.8" width="2.0" height="2.0"/>
<rect class="ot fm" x="264.2" y="626.8" width="2.0" height="2.0"/>
<rect class="ot fm" x="339.0" y="625.6" width="5.4" height="3.2" rx="0.6"/>
<rect class="ot f2" x="356.0" y="625.6" width="4.0" height="3.2"/>
<path class="ot f0" d="M246.0 630.2 l1 1.6 l1 -1.6"/>
<path class="ot f0" d="M271.0 630.2 l1 1.6 l1 -1.6"/>
<path class="ot f0" d="M296.0 630.2 l1 1.6 l1 -1.6"/>
<path class="ot f0" d="M321.0 630.2 l1 1.6 l1 -1.6"/>
<path class="ot f0" d="M347.0 630.2 l1 1.6 l1 -1.6"/>
<rect class="ol f1" x="236.0" y="641.8" width="15.3" height="15.3"/>
<rect class="ol f1" x="251.3" y="641.8" width="9.4" height="15.3" rx="0.8"/>
<line class="ot" x1="236.0" y1="644.2" x2="251.3" y2="644.2"/>
<line class="ot" x1="236.0" y1="654.6" x2="251.3" y2="654.6"/>
<rect class="ot f1" x="253.2" y="646.4" width="6.0" height="6.4" rx="0.8"/>
<circle class="ot f0" cx="256.6" cy="649.6" r="0.7"/>
<circle class="ot f0" cx="246.6" cy="649.6" r="0.9"/>
<path class="ol f1" d="M226.4 622.5 h9.6 v37 h-9.6 q-3 0 -3 -3 v-31 q0 -3 3 -3z"/>
<line class="ot" x1="225.4" y1="624.5" x2="225.4" y2="657.5"/>
<text class="d" x="247.5" y="665.5" text-anchor="middle">184.5</text>
<text class="d" x="310.4" y="665.5" text-anchor="middle">M*100</text>
<text class="d" x="351.4" y="665.5" text-anchor="middle">A</text>
<text class="d" x="363.8" y="665.5" text-anchor="middle">46</text>
<line class="ln" x1="223.8" y1="666.7" x2="367.9" y2="666.7"/>
<path class="ar" d="M223.8 666.7 l2.6 -0.7 v1.4z"/>
<path class="ar" d="M269.9 666.7 l-2.6 -0.7 v1.4z"/>
<path class="ar" d="M269.9 666.7 l2.6 -0.7 v1.4z"/>
<path class="ar" d="M344.5 666.7 l-2.6 -0.7 v1.4z"/>
<path class="ar" d="M344.5 666.7 l2.6 -0.7 v1.4z"/>
<path class="ar" d="M357.0 666.7 l-2.6 -0.7 v1.4z"/>
<path class="ar" d="M357.0 666.7 l2.6 -0.7 v1.4z"/>
<path class="ar" d="M367.9 666.7 l-2.6 -0.7 v1.4z"/>
<text class="d" x="431.3" y="609.0" text-anchor="middle">118</text>
<line class="ln" x1="415.5" y1="610.3" x2="445.8" y2="610.3"/>
<path class="ar" d="M415.5 610.3 l2.6 -0.7 v1.4z"/>
<path class="ar" d="M445.8 610.3 l-2.6 -0.7 v1.4z"/>
<text class="d" x="431.3" y="615.6" text-anchor="middle">104</text>
<line class="ln" x1="417.6" y1="616.8" x2="443.8" y2="616.8"/>
<path class="ar" d="M417.6 616.8 l2.6 -0.7 v1.4z"/>
<path class="ar" d="M443.8 616.8 l-2.6 -0.7 v1.4z"/>
<line class="ln" x1="415.5" y1="608.0" x2="415.5" y2="619.5"/>
<line class="ln" x1="445.8" y1="608.0" x2="445.8" y2="619.5"/>
<line class="ln" x1="417.6" y1="614.6" x2="417.6" y2="619.0"/>
<line class="ln" x1="443.8" y1="614.6" x2="443.8" y2="619.0"/>
<path class="ol f1" d="M416.5 623.6 h28.4 v13.8 h-28.4z"/>
<path class="ol f1" d="M415.3 623.6 l.6 -2.6 l1.2 -2.4 h27.2 l1.2 2.4 l.6 2.6z"/>
<line class="ot" x1="415.9" y1="621.6" x2="445.5" y2="621.6"/>
<path class="ol f3" d="M416.5 625.4 h-3.6 q-2 0 -2 1.4 q0 1.4 2 1.4 h3.6z"/>
<rect class="ot f2" x="415.0" y="629.0" width="2.6" height="2.6"/>
<rect class="ot f2" x="419.0" y="634.4" width="3.4" height="3.0"/>
<rect class="ot f2" x="439.0" y="634.4" width="3.4" height="3.0"/>
<line class="ot" x1="418.6" y1="623.6" x2="418.6" y2="634.4"/>
<line class="ot" x1="442.8" y1="623.6" x2="442.8" y2="634.4"/>
<rect class="ol f2" x="425.0" y="637.4" width="11.0" height="3.2"/>
<rect class="ot fk" x="426.4" y="638.0" width="4.0" height="2.0"/>
<path class="ol f1" d="M422.4 643.5 q0 -3 3 -3 h14.8 v15 q0 3 -3 3 h-14.8z"/>
<path class="ol f3" d="M422.4 648.6 h-6.6 q-1.8 0 -1.8 1.5 q0 1.5 1.8 1.5 h6.6z"/>
<rect class="ot f2" x="420.4" y="647.6" width="2.0" height="5.0"/>
<line class="cl" x1="430.3" y1="617.0" x2="430.3" y2="664.5"/>
<line class="ln" x1="445.8" y1="619.1" x2="455.0" y2="619.1"/>
<line class="ln" x1="445.0" y1="637.9" x2="455.0" y2="637.9"/>
<line class="ln" x1="453.7" y1="619.1" x2="453.7" y2="637.9"/>
<path class="ar" d="M453.7 619.1 l-0.7 2.6 h1.4z"/>
<path class="ar" d="M453.7 637.9 l-0.7 -2.6 h1.4z"/>
<text class="d" transform="translate(452.6 628.6) rotate(-90)" text-anchor="middle">76</text>
<text class="b" x="377.4" y="629.5">基準面</text>
<text class="g" x="377.4" y="635.2">The datum plane</text>
<line class="lg" x1="377.4" y1="636.2" x2="415.0" y2="636.2"/>
<line class="lg" x1="415.0" y1="636.2" x2="416.5" y2="637.4"/>
<line class="ln" x1="223.8" y1="664.6" x2="223.8" y2="722.6"/>
<line class="ln" x1="269.9" y1="664.6" x2="269.9" y2="722.6"/>
<line class="ln" x1="344.5" y1="664.6" x2="344.5" y2="681.0"/>
<line class="ln" x1="367.9" y1="664.6" x2="367.9" y2="679.6"/>
<text class="d" x="281.2" y="674.6" textLength="50.5" lengthAdjust="spacingAndGlyphs">N-M8 <tspan class="dp">↧</tspan>16=Ø6.8-thr.</text>
<line class="ln" x1="281.2" y1="675.5" x2="331.7" y2="675.5"/>
<line class="ln" x1="331.7" y1="675.5" x2="347.0" y2="686.0"/>
<path class="ol f3" d="M228 687 h6.2 v14.8 h-6.2 q-2.9 0 -2.9 -2.9 v-9 q0 -2.9 2.9 -2.9z"/>
<line class="ot" x1="227.4" y1="688.0" x2="227.4" y2="700.8"/>
<rect class="ol f1" x="234.2" y="679.6" width="133.7" height="31.5"/>
<line class="ot" x1="234.2" y1="682.0" x2="367.9" y2="682.0"/>
<line class="ot" x1="234.2" y1="708.7" x2="367.9" y2="708.7"/>
<line class="ot" x1="236.4" y1="684.2" x2="364.4" y2="684.2"/>
<line class="ot" x1="236.4" y1="706.5" x2="364.4" y2="706.5"/>
<line class="ot" x1="236.4" y1="679.6" x2="236.4" y2="711.1"/>
<line class="ot" x1="364.4" y1="679.6" x2="364.4" y2="711.1"/>
<line class="lg" x1="260.8" y1="688.8" x2="364.4" y2="688.8"/>
<line class="lg" x1="260.8" y1="701.2" x2="364.4" y2="701.2"/>
<rect class="ot f2" x="237.4" y="686.5" width="13.0" height="16.5"/>
<rect class="ot f2" x="250.4" y="686.5" width="10.4" height="16.5"/>
<line class="ot" x1="239.4" y1="686.5" x2="239.4" y2="703.0"/>
<path class="ol f2" d="M246 686.5 l1.3 -4 l1.3 4z"/>
<path class="ol f3" d="M256.6 686.5 v-7.6 q0 -1 1.1 -1 q1.1 0 1.1 1 v7.6z"/>
<line class="cl" x1="221.0" y1="694.4" x2="372.0" y2="694.4"/>
<circle class="fk" cx="245.3" cy="680.6" r="0.9"/>
<circle class="fk" cx="245.3" cy="708.0" r="0.9"/>
<circle class="fk" cx="269.9" cy="680.6" r="0.9"/>
<circle class="fk" cx="269.9" cy="708.0" r="0.9"/>
<circle class="fk" cx="295.3" cy="680.6" r="0.9"/>
<circle class="fk" cx="295.3" cy="708.0" r="0.9"/>
<circle class="fk" cx="319.4" cy="680.6" r="0.9"/>
<circle class="fk" cx="319.4" cy="708.0" r="0.9"/>
<circle class="fk" cx="344.5" cy="680.6" r="0.9"/>
<circle class="fk" cx="344.5" cy="708.0" r="0.9"/>
<circle class="fk" cx="357.0" cy="680.6" r="0.9"/>
<circle class="fk" cx="357.0" cy="708.0" r="0.9"/>
<circle class="fk" cx="269.9" cy="694.4" r="0.7"/>
<circle class="fk" cx="360.2" cy="691.2" r="0.5"/>
<circle class="fk" cx="360.2" cy="697.6" r="0.5"/>
<line class="ds" x1="269.9" y1="680.6" x2="269.9" y2="708.0"/>
<line class="ds" x1="357.0" y1="671.5" x2="357.0" y2="720.5"/>
<circle class="cyl" cx="357.0" cy="694.4" r="2.7"/>
<text class="cy" x="347.7" y="701.4">B</text>
<text class="or" x="362.4" y="678.2">C</text>
<text class="or" x="362.4" y="715.6">C</text>
<line class="orl" x1="357.4" y1="676.2" x2="361.8" y2="676.2"/>
<line class="orl" x1="357.4" y1="713.4" x2="361.8" y2="713.4"/>
<path class="oa" d="M357.2 676.2 l2.2 -.9 v1.8z M357.2 713.4 l2.2 -.9 v1.8z"/>
<line class="ln" x1="367.9" y1="679.6" x2="383.4" y2="679.6"/>
<line class="ln" x1="367.9" y1="711.1" x2="383.4" y2="711.1"/>
<line class="ln" x1="362.0" y1="680.6" x2="377.2" y2="680.6"/>
<line class="ln" x1="362.0" y1="708.0" x2="377.2" y2="708.0"/>
<line class="ln" x1="376.0" y1="680.6" x2="376.0" y2="708.0"/>
<path class="ar" d="M376.0 680.6 l-0.7 2.6 h1.4z"/>
<path class="ar" d="M376.0 708.0 l-0.7 -2.6 h1.4z"/>
<line class="ln" x1="382.2" y1="679.6" x2="382.2" y2="711.1"/>
<path class="ar" d="M382.2 679.6 l-0.7 2.6 h1.4z"/>
<path class="ar" d="M382.2 711.1 l-0.7 -2.6 h1.4z"/>
<text class="d" transform="translate(375.0 694.6) rotate(-90)" text-anchor="middle">108</text>
<text class="d" transform="translate(381.4 694.6) rotate(-90)" text-anchor="middle">120</text>
<text class="d" x="247.5" y="720.3" text-anchor="middle">184.5</text>
<text class="d" x="323.0" y="720.3" text-anchor="middle">P</text>
<line class="ln" x1="223.8" y1="721.1" x2="357.0" y2="721.1"/>
<path class="ar" d="M223.8 721.1 l2.6 -0.7 v1.4z"/>
<path class="ar" d="M269.9 721.1 l-2.6 -0.7 v1.4z"/>
<path class="ar" d="M269.9 721.1 l2.6 -0.7 v1.4z"/>
<path class="ar" d="M357.0 721.1 l-2.6 -0.7 v1.4z"/>
<text class="d" x="282.9" y="717.0" textLength="29.2" lengthAdjust="spacingAndGlyphs">2-Ø6 <tspan class="dp">↧</tspan>7 H7</text>
<line class="ln" x1="279.8" y1="717.9" x2="313.0" y2="717.9"/>
<line class="ln" x1="279.8" y1="717.9" x2="270.2" y2="695.0"/>
<text class="b" x="244.8" y="728.9" lang="zh-Hans" font-family="Liberation Sans, Noto Sans CJK SC, sans-serif">※馬達總長度需限制於<tspan class="n">132</tspan>內。</text>
<text class="g" x="241.6" y="733.2">The overall length of the motor must be within 132 cm.</text>
<line class="lg" x1="236.2" y1="711.1" x2="236.2" y2="737.4"/>
<line class="lg" x1="236.2" y1="736.2" x2="269.9" y2="736.2"/>
<line class="lg" x1="269.9" y1="722.0" x2="269.9" y2="737.4"/>
<path class="ar" d="M236.2 736.2 l2.6 -0.7 v1.4z"/>
<path class="ar" d="M269.9 736.2 l-2.6 -0.7 v1.4z"/>
<text class="b" x="389.5" y="709.2">基準面</text>
<text class="g" x="389.5" y="714.7">The datum plane</text>
<line class="lg" x1="389.5" y1="715.8" x2="428.0" y2="715.8"/>
<line class="lg" x1="428.0" y1="715.8" x2="429.2" y2="715.4"/>
<text class="cy" x="167.2" y="681.4">B View</text>
<text class="d" x="177.2" y="687.0" text-anchor="middle">8</text>
<line class="ln" x1="166.0" y1="687.8" x2="183.4" y2="687.8"/>
<path class="ar" d="M172.6 687.8 l-2.6 -0.7 v1.4z"/>
<path class="ar" d="M181.5 687.8 l2.6 -0.7 v1.4z"/>
<line class="ln" x1="172.6" y1="686.4" x2="172.6" y2="693.5"/>
<line class="ln" x1="181.5" y1="686.4" x2="181.5" y2="693.5"/>
<rect class="ol f2" x="172.6" y="690.3" width="8.9" height="6.5" rx="3.2"/>
<line class="ot" x1="170.0" y1="693.5" x2="184.4" y2="693.5"/>
<line class="ot" x1="177.0" y1="688.6" x2="177.0" y2="698.6"/>
<line class="ln" x1="164.0" y1="690.3" x2="174.0" y2="690.3"/>
<line class="ln" x1="164.0" y1="696.8" x2="174.0" y2="696.8"/>
<line class="ln" x1="165.3" y1="685.6" x2="165.3" y2="701.5"/>
<path class="ar" d="M165.3 690.3 l-0.7 -2.6 h1.4z"/>
<path class="ar" d="M165.3 696.8 l-0.7 2.6 h1.4z"/>
<text class="d" transform="translate(161.2 694.4) rotate(-90)" text-anchor="middle">6+0.012</text>
<text class="d2" transform="translate(165.6 701.2) rotate(-90)" text-anchor="middle">0</text>
<text class="or" x="457.7" y="672.0" text-anchor="middle">C-C View</text>
<g transform="translate(-3.1 358.7)">
<text class="d" x="462.0" y="323.2" text-anchor="middle">120</text>
<line class="ln" x1="432.3" y1="324.1" x2="489.9" y2="324.1"/>
<path class="ar" d="M432.3 324.1 l2.6 -0.7 v1.4z"/>
<path class="ar" d="M489.9 324.1 l-2.6 -0.7 v1.4z"/>
<line class="ln" x1="432.3" y1="322.0" x2="432.3" y2="338.4"/>
<line class="ln" x1="489.9" y1="322.0" x2="489.9" y2="338.4"/>
<path d="M438.2 329.2 h44.8 v2.2 h-1 v1.4 h2.2 v25.4 h-46.8 v-25.4 h2 v-1.4 h-1.2z" fill="url(#hat)" stroke="#3a3a3a" stroke-width=".6"/>
<path class="ol f1" d="M432.3 338.4 h5.1 v19.8 h-5.1z"/>
<path class="ol f1" d="M484.2 338.4 h5.7 v19.8 h-5.7z"/>
<line class="ot" x1="433.8" y1="340.0" x2="433.8" y2="358.2"/>
<line class="ot" x1="488.4" y1="340.0" x2="488.4" y2="358.2"/>
<rect class="ol f3" x="459.1" y="355.4" width="3.2" height="2.8"/>
<line class="cl" x1="460.7" y1="326.0" x2="460.7" y2="362.5"/>
<text class="d" x="446.4" y="364.0" text-anchor="middle">60±0.03</text>
<text class="d" x="475.0" y="364.0" text-anchor="middle">60</text>
<line class="ln" x1="432.3" y1="364.7" x2="489.9" y2="364.7"/>
<path class="ar" d="M432.3 364.7 l2.6 -0.7 v1.4z"/>
<path class="ar" d="M460.7 364.7 l-2.6 -0.7 v1.4z"/>
<path class="ar" d="M460.7 364.7 l2.6 -0.7 v1.4z"/>
<path class="ar" d="M489.9 364.7 l-2.6 -0.7 v1.4z"/>
<line class="ln" x1="432.3" y1="358.2" x2="432.3" y2="366.0"/>
<line class="ln" x1="489.9" y1="358.2" x2="489.9" y2="366.0"/>
<line class="ln" x1="489.9" y1="341.5" x2="508.6" y2="341.5"/>
<line class="ln" x1="462.3" y1="353.6" x2="496.0" y2="353.6"/>
<line class="ln" x1="489.9" y1="358.2" x2="508.6" y2="358.2"/>
<line class="ln" x1="493.9" y1="347.5" x2="493.9" y2="363.0"/>
<path class="ar" d="M493.9 353.6 l-0.7 -2.6 h1.4z"/>
<path class="ar" d="M493.9 358.2 l-0.7 2.6 h1.4z"/>
<line class="ln" x1="507.4" y1="341.5" x2="507.4" y2="358.2"/>
<path class="ar" d="M507.4 341.5 l-0.7 2.6 h1.4z"/>
<path class="ar" d="M507.4 358.2 l-0.7 -2.6 h1.4z"/>
<text class="d" transform="translate(496.6 346.2) rotate(-90)" text-anchor="middle">7</text>
<text class="d" transform="translate(506.4 348.8) rotate(-90)" text-anchor="middle">32.5</text>
</g>
</svg>
<div class="note" style="top:653px;"><p class="c" lang="zh-Hans">※行程 50 時，因本<br>體上鎖式固定孔會被<br>滑座遮住，僅能使用<br>4 支螺絲固定，建議<br>客戶本體使用下鎖式<br>固定孔鎖附。</p>
<p class="e" style="margin-top:.4px">When the stroke is 50mm,<br>if fixing the body from<br>the top to the bottom, the<br>fixing hole will be blocked<br>by slider and only can be<br>uses 4 screws to fix.as a<br>result, suggest that fixing<br>actuator body from the<br><span style="text-align-last:left;display:block">bottom to the top.</span></p></div>
<div class="abs" lang="zh-Hans" style="left:59.4px;top:822px;font-size:6.45px;font-weight:500;color:#1a1a1a;font-family:'Liberation Sans','Noto Sans CJK SC',sans-serif;">* 馬達下折時，若選用煞車馬達，或是超出馬達總長度限制時無法套用標準 PIN 孔，如有需求請洽我司業務。</div>
<div class="abs" style="left:62.5px;top:830px;font-size:4.78px;color:#9a9a9a;">When motor with brake assembled on lower side, or the total length over than spec limit, it may not use standard pinhole. Please contact our sales department if you need more information &amp; requirement.</div>
<table class="d" style="left:59.3px;top:753.0px;width:503.8px;">
<colgroup><col style="width:38.20px"><col style="width:18.62px"><col style="width:18.62px"><col style="width:18.62px"><col style="width:18.62px"><col style="width:18.62px"><col style="width:18.62px"><col style="width:18.62px"><col style="width:18.62px"><col style="width:18.62px"><col style="width:18.62px"><col style="width:18.62px"><col style="width:18.62px"><col style="width:18.62px"><col style="width:18.62px"><col style="width:18.62px"><col style="width:18.62px"><col style="width:18.62px"><col style="width:18.62px"><col style="width:18.62px"><col style="width:18.62px"><col style="width:18.62px"><col style="width:18.62px"><col style="width:18.62px"><col style="width:18.62px"><col style="width:18.62px"></colgroup>
<tr class="h"><td style="height:14.6px"><div class="hs"><b>有效行程</b><span>Stroke</span></div></td><td>50<sup>※</sup></td><td>100</td><td>150</td><td>200</td><td>250</td><td>300</td><td>350</td><td>400</td><td>450</td><td>500</td><td>550</td><td>600</td><td>650</td><td>700</td><td>750</td><td>800</td><td>850</td><td>900</td><td>950</td><td>1000</td><td>1050</td><td>1100</td><td>1150</td><td>1200</td><td>1250</td></tr>
<tr class="tight"><td class="k" style="height:8.33px">L</td><td>330.5</td><td>380.5</td><td>430.5</td><td>480.5</td><td>530.5</td><td>580.5</td><td>630.5</td><td>680.5</td><td>730.5</td><td>780.5</td><td>830.5</td><td>880.5</td><td>930.5</td><td>980.5</td><td>1030.5</td><td>1080.5</td><td>1130.5</td><td>1180.5</td><td>1230.5</td><td>1280.5</td><td>1330.5</td><td>1380.5</td><td>1430.5</td><td>1480.5</td><td>1530.5</td></tr>
<tr><td class="k" style="height:8.33px">A</td><td>100</td><td>50</td><td>100</td><td>50</td><td>100</td><td>50</td><td>100</td><td>50</td><td>100</td><td>50</td><td>100</td><td>50</td><td>100</td><td>50</td><td>100</td><td>50</td><td>100</td><td>50</td><td>100</td><td>50</td><td>100</td><td>50</td><td>100</td><td>50</td><td>100</td></tr>
<tr><td class="k" style="height:8.33px">M</td><td>0</td><td>1</td><td>1</td><td>2</td><td>2</td><td>3</td><td>3</td><td>4</td><td>4</td><td>5</td><td>5</td><td>6</td><td>6</td><td>7</td><td>7</td><td>8</td><td>8</td><td>9</td><td>9</td><td>10</td><td>10</td><td>11</td><td>11</td><td>12</td><td>12</td></tr>
<tr><td class="k" style="height:8.33px">N</td><td>4</td><td>6</td><td>6</td><td>8</td><td>8</td><td>10</td><td>10</td><td>12</td><td>12</td><td>14</td><td>14</td><td>16</td><td>16</td><td>18</td><td>18</td><td>20</td><td>20</td><td>22</td><td>22</td><td>24</td><td>24</td><td>26</td><td>26</td><td>28</td><td>28</td></tr>
<tr><td class="k" style="height:8.33px">P</td><td>100</td><td>150</td><td>200</td><td>250</td><td>300</td><td>350</td><td>400</td><td>450</td><td>500</td><td>550</td><td>600</td><td>650</td><td>700</td><td>750</td><td>800</td><td>850</td><td>900</td><td>950</td><td>1000</td><td>1050</td><td>1100</td><td>1150</td><td>1200</td><td>1250</td><td>1300</td></tr>
<tr><td class="k" style="height:8.33px">KG</td><td>5.21</td><td>5.56</td><td>5.91</td><td>6.26</td><td>6.61</td><td>6.96</td><td>7.31</td><td>7.66</td><td>8.01</td><td>8.36</td><td>8.71</td><td>9.06</td><td>9.41</td><td>9.76</td><td>10.11</td><td>10.46</td><td>10.81</td><td>11.16</td><td>11.51</td><td>11.86</td><td>12.21</td><td>12.56</td><td>12.91</td><td>13.26</td><td>13.61</td></tr>
</table><div id="ftab"></div>
<div class="abs" style="left:89.8px;top:862.6px;font-size:8.4px;font-weight:bold;color:#58595b;">www.viso-auto.com</div>
</body>
</html>
